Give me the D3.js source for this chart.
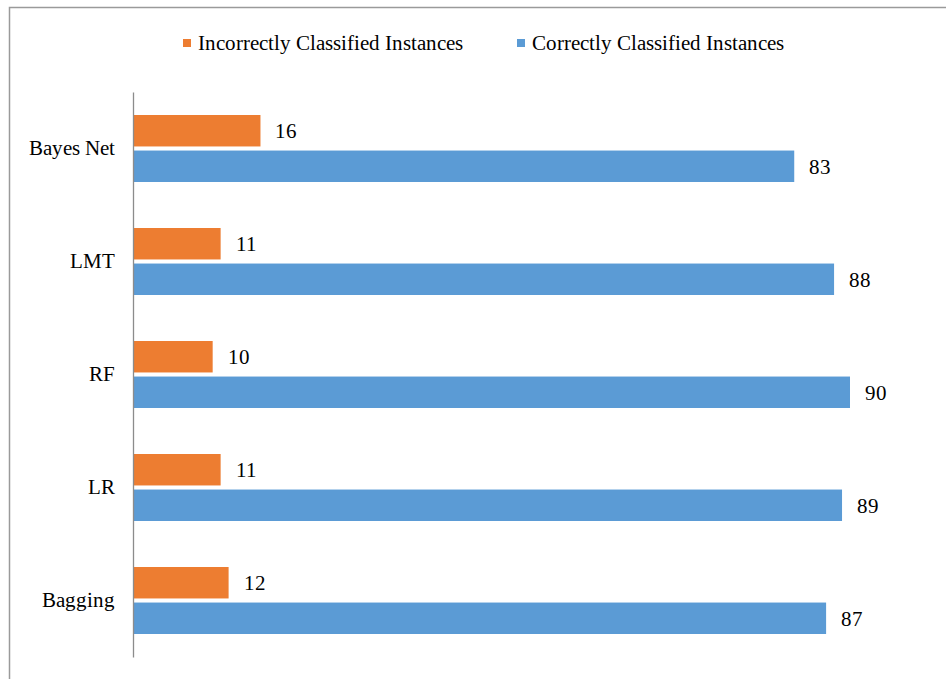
<!DOCTYPE html>
<html>
<head>
<meta charset="utf-8">
<script src="https://cdn.jsdelivr.net/npm/d3@7"></script>
<style>
  @font-face {
    font-family: "ChartSerif";
    src: local("Liberation Serif"), local("LiberationSerif"), local("LiberationSerif-Regular"),
         local("Times New Roman"), local("Tinos");
  }
  html, body { margin: 0; padding: 0; background: #fff; }
  svg { display: block; font-family: "ChartSerif", "Liberation Serif", "Times New Roman", serif; }
  svg text { font-family: "ChartSerif", "Liberation Serif", "Times New Roman", serif; }
</style>
</head>
<body>
<svg id="chart" width="946" height="679"></svg>
<script>
// Classifier results (percent of instances)
const classifiers = ["Bayes Net", "LMT", "RF", "LR", "Bagging"];
const incorrect = [16, 11, 10, 11, 12];
const correct = [83, 88, 90, 89, 87];
const seriesNames = ["Incorrectly Classified Instances", "Correctly Classified Instances"];
const seriesColors = ["#ED7D31", "#5B9BD5"];

const W = 946, H = 679;
const fontSize = 21;

function textStyle(sel) {
  sel.style("font-size", fontSize + "px").style("fill", "#000");
}

function draw() {
  const svg = d3.select("#chart");
  svg.selectAll("*").remove();

  // Frame around the chart area
  svg.append("path")
    .attr("d", `M9.5,${H} V7.5 H${W}`)
    .attr("fill", "none")
    .attr("stroke", "#9a9a9a")
    .attr("stroke-width", 1.5);

  const x0 = 133;
  const x = d3.scaleLinear().domain([0, 90]).range([x0, 850]);
  const y = d3.scaleBand().domain(classifiers).range([92, 657]);
  const sub = d3.scaleBand().domain([0, 1]).range([23, 90]).paddingInner(0.115);

  const rows = classifiers.map((c, i) => ({ name: c, values: [incorrect[i], correct[i]] }));

  const groups = svg.append("g").selectAll("g.row").data(rows).join("g")
    .attr("class", "row")
    .attr("transform", d => `translate(0,${y(d.name)})`);

  groups.selectAll("rect").data(d => d.values).join("rect")
    .attr("x", x(0))
    .attr("y", (v, j) => sub(j))
    .attr("width", v => x(v) - x(0))
    .attr("height", sub.bandwidth())
    .attr("fill", (v, j) => seriesColors[j]);

  groups.selectAll("text.val").data(d => d.values).join("text")
    .attr("class", "val")
    .attr("x", v => x(v) + 15)
    .attr("y", (v, j) => sub(j) + sub.bandwidth() / 2)
    .attr("dy", "0.35em")
    .call(textStyle)
    .text(v => v);

  // Category axis
  const axis = d3.axisLeft(y).tickSize(0).tickPadding(18);
  const ag = svg.append("g").attr("transform", `translate(${x0},0)`).call(axis)
    .attr("font-family", null).attr("font-size", null);
  ag.select(".domain").attr("stroke", "#8c8c8c").attr("stroke-width", 1.3);
  ag.selectAll(".tick text").call(textStyle);

  // Legend
  const legendX = [183, 517];
  const lg = svg.append("g").selectAll("g").data(seriesNames).join("g")
    .attr("transform", (d, i) => `translate(${legendX[i]},0)`);
  lg.append("rect").attr("x", 0).attr("y", 39).attr("width", 8).attr("height", 8)
    .attr("fill", (d, i) => seriesColors[i]);
  lg.append("text").attr("x", 15).attr("y", 50)
    .call(textStyle)
    .text(d => d);
}

draw();
if (document.fonts && document.fonts.ready) document.fonts.ready.then(draw);
</script>
</body>
</html>
